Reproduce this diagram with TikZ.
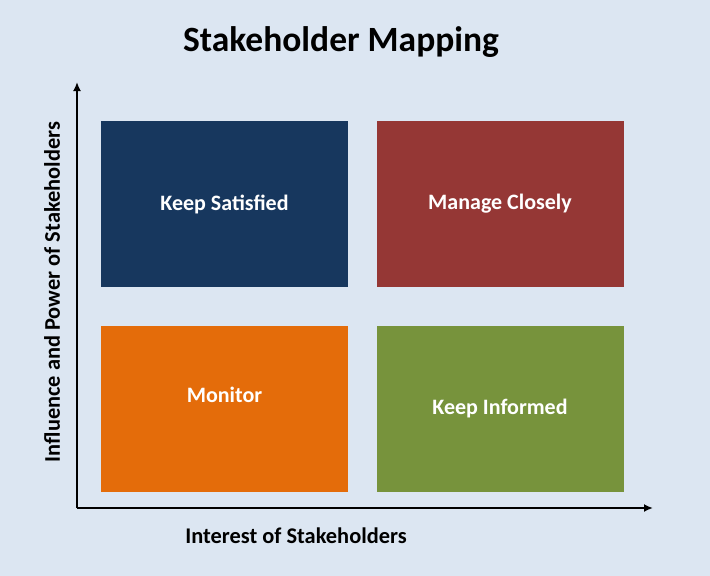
\documentclass[tikz,border=0pt]{standalone}
\usepackage{fontspec}
\setmainfont{Carlito}
\usetikzlibrary{arrows.meta}

\definecolor{bgc}{HTML}{DCE6F2}
\definecolor{satisfiedc}{HTML}{17375E}
\definecolor{closelyc}{HTML}{953735}
\definecolor{monitorc}{HTML}{E46C0A}
\definecolor{informedc}{HTML}{77933C}

\tikzset{
  quadrant/.style={draw=none, minimum width=247pt, minimum height=166pt, inner sep=0pt},
  quadtext/.style={text=white, font=\fontsize{22}{26}\selectfont\bfseries},
  axis/.style={line width=1.8pt, -{Latex[length=9pt,width=8pt]}},
  axistext/.style={font=\fontsize{22.4}{26}\selectfont\bfseries}
}

\begin{document}
\begin{tikzpicture}[x=1pt, y=-1pt]
\useasboundingbox[fill=bgc] (0,0) rectangle (710,576); %background
\node[font=\fontsize{35.5}{42}\selectfont\bfseries] (title) at (341,42) {Stakeholder Mapping};
%quadrants
\node[quadrant, fill=satisfiedc] (satisfied) at (224.5,204) {};
\node[quadrant, fill=closelyc] (closely) at (500,204) {};
\node[quadrant, fill=monitorc] (monitor) at (224.5,408.5) {};
\node[quadrant, fill=informedc] (informed) at (500,408.5) {};
\node[quadtext] at (satisfied.center) {Keep Satisfied};
\node[quadtext] at (closely.center) {Manage Closely};
\node[quadtext] at ([yshift=13.5pt]monitor.center) {Monitor};
\node[quadtext] at (informed.center) {Keep Informed};
%axes
\coordinate (origin) at (77,508);
\coordinate (ytip) at (77,82);
\coordinate (xtip) at (653,508);
\draw[axis] (origin) -- (ytip);
\draw[axis] (origin) -- (xtip);
\node[axistext] (xlabel) at (296,536) {Interest of Stakeholders};
\node[axistext, rotate=90] (ylabel) at (52,292) {Influence and Power of Stakeholders};
\end{tikzpicture}
\end{document}
